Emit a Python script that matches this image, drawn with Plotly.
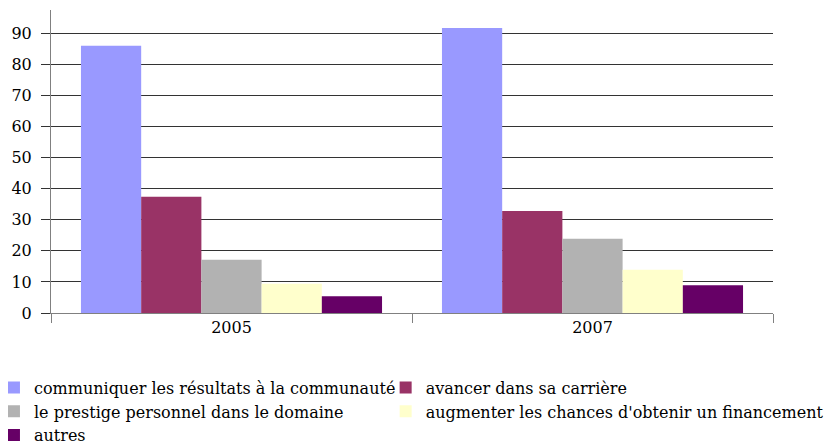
import plotly.graph_objects as go

years = ["2005", "2007"]
series_names = [
    "communiquer les résultats à la communauté",
    "avancer dans sa carrière",
    "le prestige personnel dans le domaine",
    "augmenter les chances d'obtenir un financement",
    "autres",
]
communiquer = [86, 91.7]
carriere = [37.4, 32.8]
prestige = [17.1, 23.9]
financement = [9.4, 13.9]
autres = [5.4, 8.9]
series_values = [communiquer, carriere, prestige, financement, autres]
colors = ["#9999ff", "#993366", "#b2b2b2", "#ffffcc", "#660066"]
legend_ids = ["legend", "legend2", "legend", "legend2", "legend"]

FONT = "DejaVu Serif"

fig = go.Figure()
for name, vals, col, lg in zip(series_names, series_values, colors, legend_ids):
    fig.add_trace(go.Bar(
        x=years, y=vals, name=name, marker=dict(color=col, line=dict(width=0)),
        legend=lg,
    ))

legend_common = dict(
    orientation="v", yanchor="top", y=-0.19, xanchor="left",
    font=dict(family=FONT, size=16, color="#000000"),
    bgcolor="rgba(0,0,0,0)", itemwidth=30, tracegroupgap=0,
)

fig.update_layout(
    width=824, height=440,
    margin=dict(l=43, r=59, t=2, b=135, autoexpand=False),
    paper_bgcolor="white", plot_bgcolor="white",
    barmode="group", bargap=0.166, bargroupgap=0,
    font=dict(family=FONT, size=16, color="#000000"),
    legend=dict(x=-0.079, **legend_common),
    legend2=dict(x=0.4635, **legend_common),
    showlegend=True,
)
fig.update_xaxes(
    showline=True, linecolor="#808080", linewidth=1,
    ticks="outside", tickson="boundaries", ticklen=9, tickcolor="#808080",
    showgrid=False, zeroline=False,
    tickfont=dict(family=FONT, size=16, color="#000000"),
)
fig.update_yaxes(
    range=[0, 97.5], dtick=10, tick0=0,
    showline=True, linecolor="#808080", linewidth=1,
    ticks="outside", ticklen=9, tickcolor="#333333",
    showgrid=True, gridcolor="#333333", gridwidth=1,
    zeroline=False, ticklabelstandoff=6,
    tickfont=dict(family=FONT, size=16, color="#000000"),
)

fig.write_html("out.html")
